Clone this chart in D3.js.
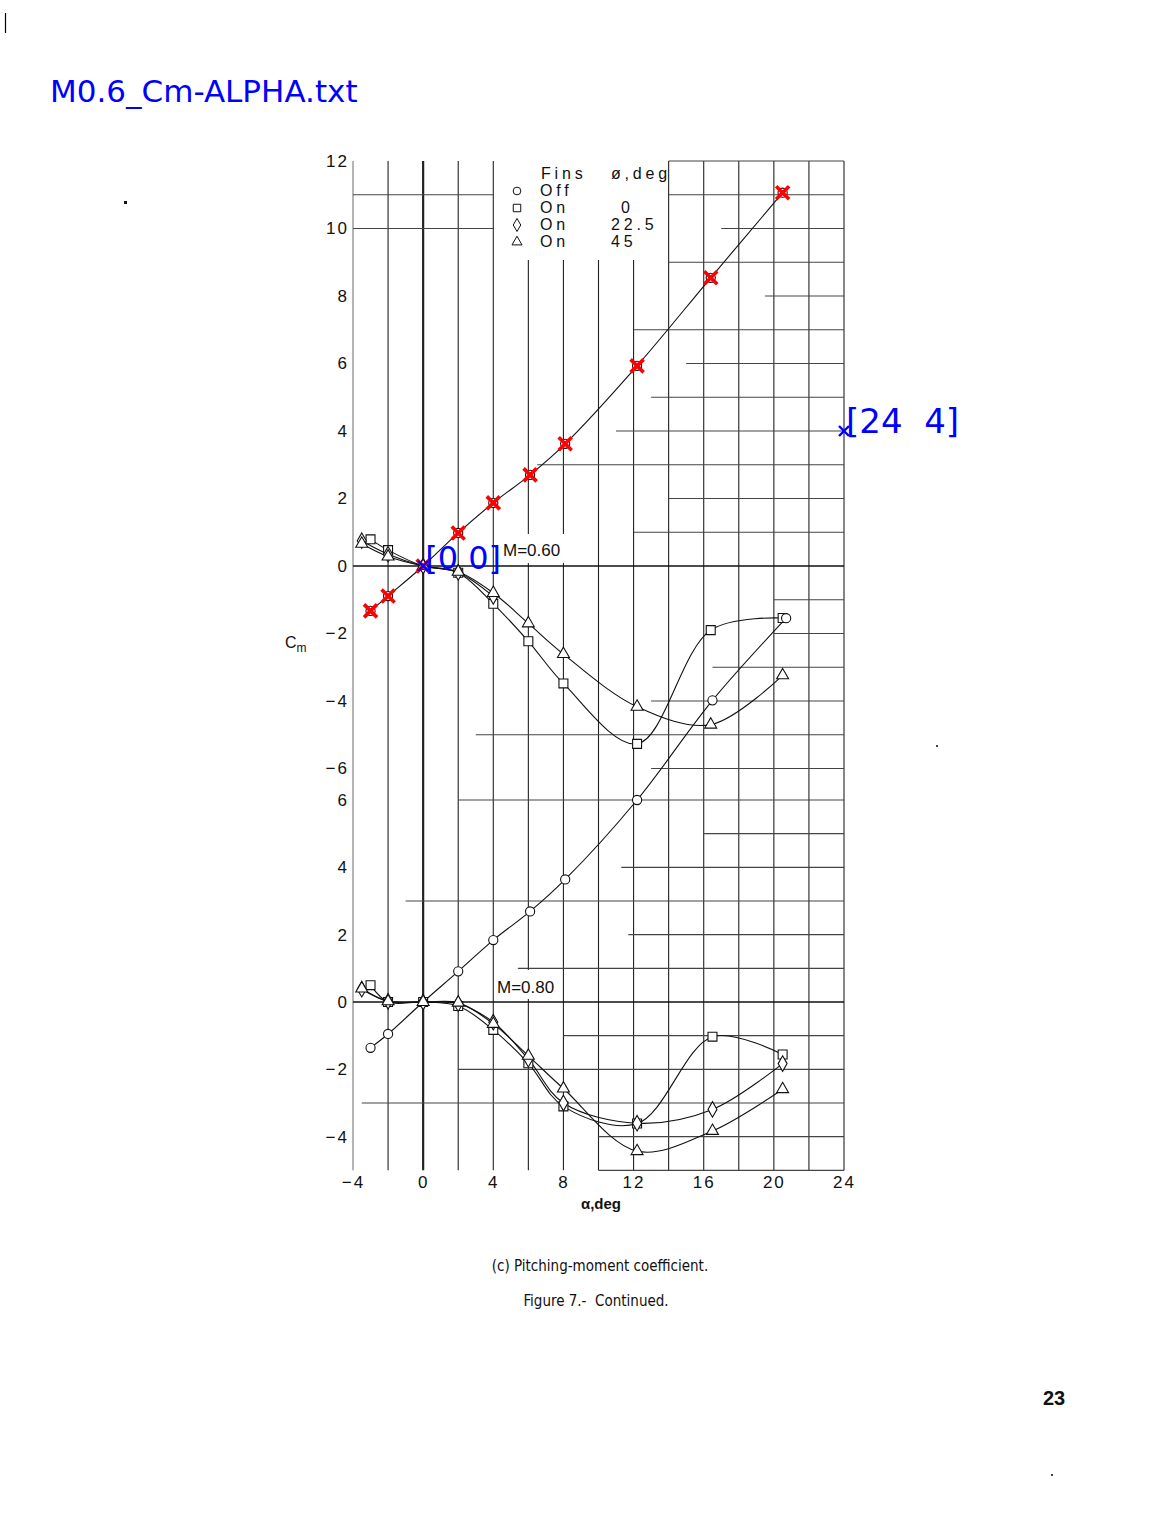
<!DOCTYPE html>
<html><head><meta charset="utf-8">
<script src="https://cdn.jsdelivr.net/npm/d3@7"></script>
<style>body{margin:0;background:#fff} svg{display:block} text{white-space:pre}</style>
</head><body><svg id="c" width="1176" height="1520"></svg>
<script>
// ---------- data ----------
const xTicks = [-4, 0, 4, 8, 12, 16, 20, 24];
const yTicksTop = [12, 10, 8, 6, 4, 2, 0, -2, -4, -6];
const yTicksBot = [6, 4, 2, 0, -2, -4];
const gridAlpha = [-4,-2,0,2,4,6,8,10,12,14,16,18,20,22,24];

// M = 0.60
const alphaOffTop = [-3, -2, 0, 2, 4, 6.1, 8.1, 12.2, 16.4, 20.5];
const cmOffTop    = [-1.33, -0.89, 0, 0.98, 1.87, 2.70, 3.62, 5.93, 8.54, 11.06];
const alphaSqTop  = [-3, -2, 0, 2, 4, 6, 8, 12.2, 16.4, 20.5];
const cmSqTop     = [0.79, 0.47, 0, -0.2, -1.12, -2.23, -3.48, -5.27, -1.9, -1.54];
const alphaDiTop  = [-3.5, -2, 0, 2, 4];
const cmDiTop     = [0.75, 0.35, 0, -0.19, -0.9];
const alphaTrTop  = [-3.5, -2, 0, 2, 4, 6, 8, 12.2, 16.4, 20.5];
const cmTrTop     = [0.66, 0.28, 0, -0.17, -0.8, -1.7, -2.61, -4.17, -4.7, -3.24];

// M = 0.80
const alphaOffBot = [-3, -2, 0, 2, 4, 6.1, 8.1, 12.2, 16.5, 20.7];
const cmOffBot    = [-1.36, -0.95, 0, 0.91, 1.84, 2.69, 3.64, 6.0, 8.96, 11.4];
const alphaSqBot  = [-3, -2, 0, 2, 4, 6, 8, 12.2, 16.5, 20.5];
const cmSqBot     = [0.5, 0.0, 0, -0.12, -0.83, -1.82, -3.1, -3.61, -1.03, -1.56];
const alphaDiBot  = [-3.5, -2, 0, 2, 4, 6, 8, 12.2, 16.5, 20.5];
const cmDiBot     = [0.38, 0.02, 0, -0.05, -0.6, -1.7, -3.0, -3.6, -3.19, -1.83];
const alphaTrBot  = [-3.5, -2, 0, 2, 4, 6, 8, 12.2, 16.5, 20.5];
const cmTrBot     = [0.4, 0.02, 0, -0.02, -0.65, -1.6, -2.57, -4.43, -3.83, -2.59];

// digitizer overlay
const digitAlpha = alphaOffTop;
const digitCm = cmOffTop;
const calibAlpha = [0, 24];
const calibCm = [0, 4];
const calibLabels = ["[0 0]", "[24  4]"];

const legendFins = ["Off", "On", "On", "On"];
const legendPhi = ["", "0", "22.5", "45"];

// partial horizontal grid rules of the scanned sheet: [value, alphaFrom, alphaTo]
const hGridTop = [[12,14,24],[11,-4,4],[11,14,24],[10,-4,4],[10,17,24],[9,14,24],[8,19.5,24],[7,12,24],[6,15,24],[5,13,24],[4,11,24],[3,6.5,24],[2,14,24],[1,12,24],[-1,20,24],[-2,20,24],[-3,16.5,24],[-4,13,24],[-5,3,24],[-6,13,24]];
const hGridBot = [[6,2,24],[5,16,24],[4,11.3,24],[3,-1,24],[2,11.7,24],[1,5.4,24],[-1,8,24],[-2,2,24],[-3,-3.5,24],[-4,10,24],[-5,10,24]];

// ---------- drawing ----------
const svg = d3.select("#c");
const x = d3.scaleLinear().domain([-4, 24]).range([353, 844]);
const yTop = d3.scaleLinear().domain([0, 12]).range([566, 161]);
const yBot = d3.scaleLinear().domain([0, 6]).range([1002, 800]);
const yTopEdge = yTop(12), yBotEdge = yBot(-5);

svg.append("rect").attr("width",1176).attr("height",1520).attr("fill","#fff");

const grid = svg.append("g");
gridAlpha.forEach(a => {
  const startY = (a >= 6 && a <= 12) ? 260 : yTopEdge;
  grid.append("line").attr("x1", x(a)).attr("x2", x(a))
    .attr("y1", startY).attr("y2", yBotEdge)
    .attr("stroke", a === -4 ? "#777" : "#222")
    .attr("stroke-width", a === 0 ? 2.2 : 1.1);
});
hGridTop.forEach(([v,a0,a1]) => grid.append("line").attr("x1",x(a0)).attr("x2",x(a1))
  .attr("y1",yTop(v)).attr("y2",yTop(v)).attr("stroke","#444").attr("stroke-width",1.1));
hGridBot.forEach(([v,a0,a1]) => grid.append("line").attr("x1",x(a0)).attr("x2",x(a1))
  .attr("y1",yBot(v)).attr("y2",yBot(v)).attr("stroke","#444").attr("stroke-width",1.1));
[yTop(0), yBot(0)].forEach(yy => grid.append("line").attr("x1",x(-4)).attr("x2",x(24))
  .attr("y1",yy).attr("y2",yy).attr("stroke","#111").attr("stroke-width",1.6));

svg.append("rect").attr("x",497).attr("y",yTopEdge-1).attr("width",169).attr("height",260-yTopEdge+1).attr("fill","#fff");
svg.append("rect").attr("x",498).attr("y",534).attr("width",66).attr("height",29).attr("fill","#fff");
svg.append("rect").attr("x",496).attr("y",970).attr("width",66).attr("height",29).attr("fill","#fff");

const fmt = d => (d < 0 ? "\u2212" + Math.abs(d) : String(d));
function styleAxis(g){
  g.select(".domain").remove();
  g.selectAll(".tick line").remove();
  g.selectAll("text").attr("font-family","Liberation Sans, Arial, sans-serif")
    .attr("font-size",17).attr("letter-spacing","2px").attr("fill","#111");
}
svg.append("g").attr("transform","translate(351,0)")
  .call(d3.axisLeft(yTop).tickValues(yTicksTop).tickFormat(fmt).tickSize(0).tickPadding(2)).call(styleAxis);
svg.append("g").attr("transform","translate(351,0)")
  .call(d3.axisLeft(yBot).tickValues(yTicksBot).tickFormat(fmt).tickSize(0).tickPadding(2)).call(styleAxis);
svg.append("g").attr("transform",`translate(0,${yBotEdge})`)
  .call(d3.axisBottom(x).tickValues(xTicks).tickFormat(fmt).tickSize(0).tickPadding(6)).call(styleAxis);

const cm = svg.append("text").attr("x",285).attr("y",648).attr("font-family","Liberation Sans, Arial, sans-serif").attr("font-size",16).attr("fill","#111");
cm.append("tspan").text("C");
cm.append("tspan").attr("font-size",12).attr("dy",4).text("m");
svg.append("text").attr("x",601).attr("y",1209).attr("text-anchor","middle")
  .attr("font-family","Liberation Sans, Arial, sans-serif").attr("font-weight","bold").attr("font-size",15).attr("fill","#111").text("\u03b1,deg");

svg.append("text").attr("x",503).attr("y",556).attr("font-family","Liberation Sans, Arial, sans-serif").attr("font-size",17).attr("fill","#111").text("M=0.60");
svg.append("text").attr("x",497).attr("y",993).attr("font-family","Liberation Sans, Arial, sans-serif").attr("font-size",17).attr("fill","#111").text("M=0.80");

const symType = {off: d3.symbolCircle, sq: d3.symbolSquare, di: d3.symbolDiamond, tr: d3.symbolTriangle};
const symSize = {off: 66, sq: 80, di: 70, tr: 62};
function series(alphas, cms, y){
  const pts = alphas.map((a,i)=>[x(a), y(cms[i])]);
  svg.append("path").attr("d", d3.line().curve(d3.curveCatmullRom.alpha(0.5))(pts))
    .attr("fill","none").attr("stroke","#111").attr("stroke-width",1.1);
  return pts;
}
function symbols(pts, kind){
  svg.append("g").selectAll("path").data(pts).join("path")
    .attr("transform", d=>`translate(${d[0]},${d[1]})`)
    .attr("d", d3.symbol().type(symType[kind]).size(symSize[kind]))
    .attr("fill","#fff").attr("stroke","#111").attr("stroke-width",1.1);
}
const sets = [
  [alphaOffTop,cmOffTop,yTop,"off"],[alphaSqTop,cmSqTop,yTop,"sq"],[alphaDiTop,cmDiTop,yTop,"di"],[alphaTrTop,cmTrTop,yTop,"tr"],
  [alphaOffBot,cmOffBot,yBot,"off"],[alphaSqBot,cmSqBot,yBot,"sq"],[alphaDiBot,cmDiBot,yBot,"di"],[alphaTrBot,cmTrBot,yBot,"tr"]
];
const allPts = sets.map(s => series(s[0], s[1], s[2]));
sets.forEach((s,i) => symbols(allPts[i], s[3]));

// legend
const lg = svg.append("g").attr("font-family","Liberation Sans, Arial, sans-serif").attr("font-size",16).attr("letter-spacing","3.8px").attr("fill","#111");
lg.append("text").attr("x",541).attr("y",179).text("Fins");
lg.append("text").attr("x",611).attr("y",179).text("\u00f8,deg");
const lkinds = ["off","sq","di","tr"];
legendFins.forEach((f,i)=>{
  const yy = 196 + i*17;
  lg.append("path").attr("transform",`translate(517,${yy-5})`)
    .attr("d", d3.symbol().type(symType[lkinds[i]]).size(symSize[lkinds[i]]*0.7))
    .attr("fill","#fff").attr("stroke","#111").attr("stroke-width",1);
  lg.append("text").attr("x",540).attr("y",yy).text(f);
  lg.append("text").attr("x", legendPhi[i].length===1 ? 621 : 611).attr("y",yy).text(legendPhi[i]);
});

const cross = (g, cx, cy, r, col, w) => {
  g.append("line").attr("x1",cx-r).attr("y1",cy-r).attr("x2",cx+r).attr("y2",cy+r).attr("stroke",col).attr("stroke-width",w);
  g.append("line").attr("x1",cx-r).attr("y1",cy+r).attr("x2",cx+r).attr("y2",cy-r).attr("stroke",col).attr("stroke-width",w);
};
const ov = svg.append("g");
digitAlpha.forEach((a,i)=>cross(ov, x(a), yTop(digitCm[i]), 6.5, "#ff0000", 3.6));
calibAlpha.forEach((a,i)=>{
  const cx = x(a), cy = yTop(calibCm[i]);
  cross(ov, cx, cy, 5, "#0000ff", 2.4);
  ov.append("text").attr("x", cx+2).attr("y", cy + (i===0 ? 3 : 2)).attr("font-family","DejaVu Sans, sans-serif")
    .attr("font-size", i===0 ? 32 : 34).attr("fill","#0000ff").text(calibLabels[i]);
});

svg.append("text").attr("x",50).attr("y",102).attr("font-family","DejaVu Sans, sans-serif").attr("font-size",31).attr("fill","#0000ff").text("M0.6_Cm-ALPHA.txt");
svg.append("line").attr("x1",5.5).attr("x2",5.5).attr("y1",13).attr("y2",33).attr("stroke","#000").attr("stroke-width",1.2);
svg.append("rect").attr("x",124).attr("y",201).attr("width",3).attr("height",3).attr("fill","#111");
svg.append("rect").attr("x",936).attr("y",745).attr("width",2).attr("height",2).attr("fill","#444");
svg.append("rect").attr("x",1051).attr("y",1474).attr("width",2).attr("height",2).attr("fill","#444");

const capFont = "Liberation Sans Narrow, DejaVu Sans Condensed, Arial Narrow, sans-serif";
svg.append("text").attr("x",600).attr("y",1271).attr("text-anchor","middle").attr("font-family",capFont).attr("font-size",15).attr("fill","#111").text("(c) Pitching-moment coefficient.");
svg.append("text").attr("x",596).attr("y",1306).attr("text-anchor","middle").attr("font-family",capFont).attr("font-size",15).attr("fill","#111").text("Figure 7.-  Continued.");
svg.append("text").attr("x",1043).attr("y",1405).attr("font-family","Liberation Sans, Arial, sans-serif").attr("font-weight","bold").attr("font-size",20).attr("fill","#111").text("23");
</script></body></html>
